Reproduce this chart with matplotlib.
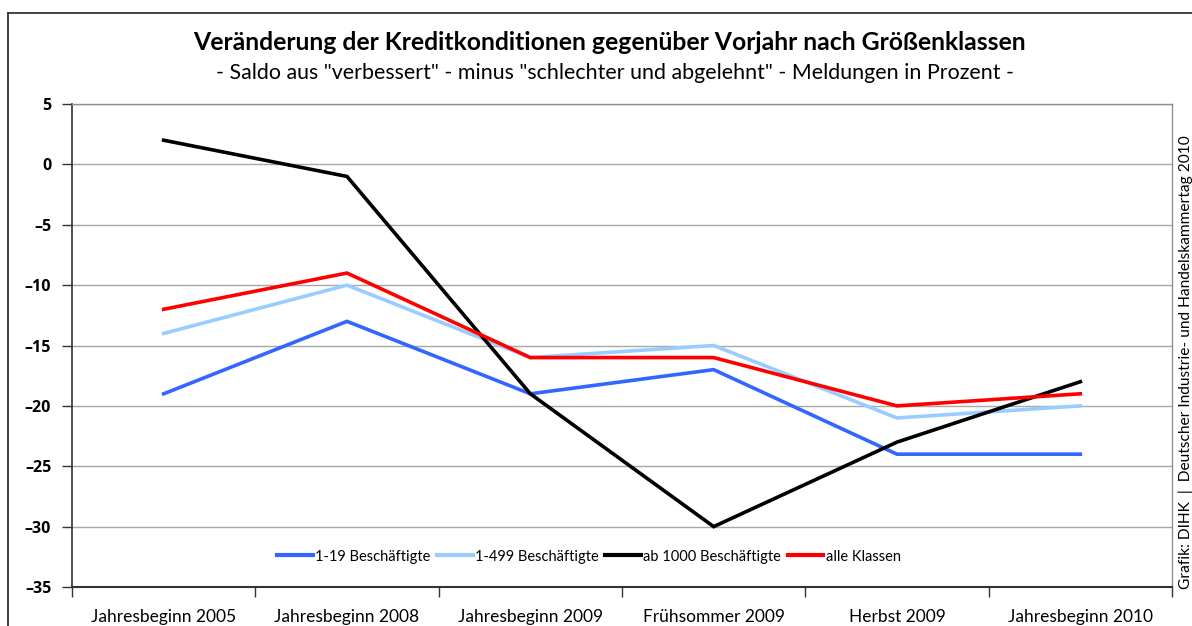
import matplotlib
matplotlib.use("Agg")
import matplotlib.pyplot as plt
from matplotlib.lines import Line2D

categories = ["Jahresbeginn 2005", "Jahresbeginn 2008", "Jahresbeginn 2009",
              "Frühsommer 2009", "Herbst 2009", "Jahresbeginn 2010"]
s_1_19 = [-19, -13, -19, -17, -24, -24]
s_1_499 = [-14, -10, -16, -15, -21, -20]
s_ab1000 = [2, -1, -19, -30, -23, -18]
s_alle = [-12, -9, -16, -16, -20, -19]
series_names = ["1-19 Beschäftigte", "1-499 Beschäftigte", "ab 1000 Beschäftigte", "alle Klassen"]
yticks = [5, 0, -5, -10, -15, -20, -25, -30, -35]

W, H = 1192, 626
fig = plt.figure(figsize=(W / 100, H / 100), dpi=100)
plt.rcParams['font.family'] = ['Lato', 'DejaVu Sans']

ax = fig.add_axes([72 / W, (H - 587) / H, 1100 / W, 483 / H])
x = list(range(len(categories)))
colors = ["#3366FF", "#99CCFF", "#000000", "#FF0000"]
for vals, c, name in zip([s_1_19, s_1_499, s_ab1000, s_alle], colors, series_names):
    ax.plot(x, vals, color=c, lw=2.6, label=name, solid_joinstyle="miter", zorder=3)

ax.set_xlim(-0.5, len(categories) - 0.5)
ax.set_ylim(-35, 5)
ax.set_yticks(yticks)
ax.set_yticklabels([str(v).replace("-", "\u2013") for v in yticks], fontsize=11.5, fontweight="bold",
                   family=["Open Sans", "DejaVu Sans"])
ax.set_xticks(x)
ax.set_xticklabels(categories, fontsize=12.5)
ax.set_xticks([i + 0.5 for i in range(-1, len(categories))], minor=True)
ax.tick_params(axis="x", which="major", length=0, pad=15.5)
ax.tick_params(axis="x", which="minor", length=7, width=1, color="#333333")
ax.tick_params(axis="y", length=7, width=1, color="#333333", pad=8)
ax.grid(axis="y", color="#A8A8A8", lw=1)
ax.set_axisbelow(True)
for side in ["top", "right"]:
    ax.spines[side].set_color("#909090")
    ax.spines[side].set_linewidth(1)
ax.spines["left"].set_color("#333333")
ax.spines["bottom"].set_color("#333333")
ax.spines["left"].set_linewidth(1.2)
ax.spines["bottom"].set_linewidth(1.5)

leg = ax.legend(loc="center", bbox_to_anchor=(517 / 1100, 0.063), ncol=4, frameon=False,
                fontsize=10.5, handlelength=2.45, handletextpad=0.15, columnspacing=0.45)
for h in leg.get_lines():
    h.set_linewidth(3)

fig.text(609 / W, 1 - 42 / H, "Veränderung der Kreditkonditionen gegenüber Vorjahr nach Größenklassen",
         ha="center", va="center", fontsize=17.8, fontweight="bold")
fig.text(615 / W, 1 - 73 / H,
         '- Saldo aus "verbessert" - minus "schlechter und abgelehnt" - Meldungen in Prozent -',
         ha="center", va="center", fontsize=15.4)
fig.text(1186 / W, 1 - 362 / H, "Grafik: DIHK  |  Deutscher Industrie- und Handelskammertag 2010",
         ha="center", va="center", rotation=90, fontsize=11.2)

fig.add_artist(Line2D([8 / W, 8 / W], [-0.05, 1 - 13 / H], transform=fig.transFigure, color="#333333", lw=1.3))
fig.add_artist(Line2D([8 / W, 1.05], [1 - 13 / H, 1 - 13 / H], transform=fig.transFigure, color="#333333", lw=1.3))

fig.savefig("out.png", dpi=100)
